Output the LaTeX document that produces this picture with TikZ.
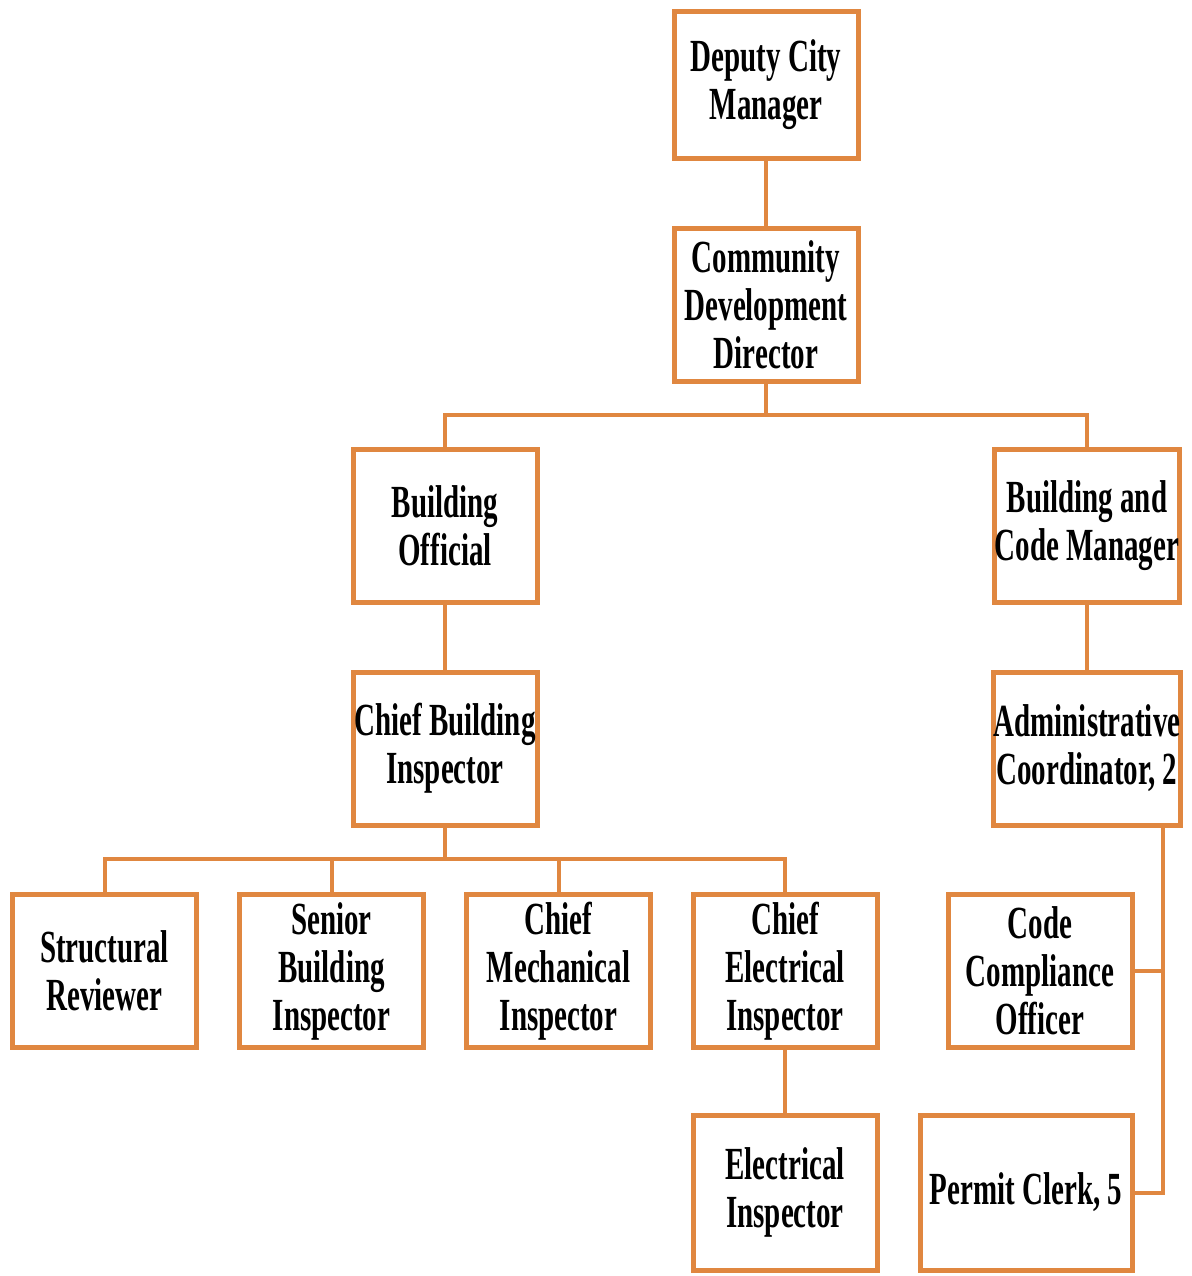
\documentclass[tikz,border=0pt]{standalone}
\usepackage{fontspec}
\setmainfont[FakeStretch=0.63]{Liberation Serif}
\definecolor{org}{RGB}{224,135,64}
\tikzset{
  orgbox/.style={draw=org, line width=5pt, fill=white, minimum width=184pt, minimum height=153pt,
    align=center, inner sep=0pt, text=black,
    font=\bfseries\fontsize{46}{48}\selectfont},
  link/.style={draw=org, line width=4pt}
}
\begin{document}
\begin{tikzpicture}[x=1pt,y=-1pt]
\useasboundingbox (0,0) rectangle (1191,1276);
\node[orgbox, minimum height=147pt] (dcm) at (766,85) {Deputy City\\Manager};
\node[orgbox] (cdd) at (766,304.5) {Community\\Development\\Director};
\node[orgbox] (bo) at (445,525.5) {Building\\Official};
\node[orgbox] (bcm) at (1087,525.5) {Building and\\Code Manager};
\node[orgbox] (cbi) at (445,748.5) {Chief Building\\Inspector};
\node[orgbox] (adm) at (1087,748.5) {Administrative\\Coordinator, 2};
\node[orgbox] (sr) at (104.5,971) {Structural\\Reviewer};
\node[orgbox] (sbi) at (331.5,971) {Senior\\Building\\Inspector};
\node[orgbox] (cmi) at (558.5,971) {Chief\\Mechanical\\Inspector};
\node[orgbox] (cei) at (785,971) {Chief\\Electrical\\Inspector};
\node[orgbox] (cco) at (1040,971) {Code\\Compliance\\Officer};
\node[orgbox, minimum height=155pt] (ei) at (785,1192.5) {Electrical\\Inspector};
\node[orgbox, minimum width=212pt, minimum height=155pt] (pc) at (1026,1192.5) {Permit Clerk, 5};
\coordinate (bus1) at (0,415);
\coordinate (bus2) at (0,859);
\coordinate (rail) at (1163,0);
\draw[link] (dcm) -- (cdd);
\draw[link] (cdd.south) -- (cdd.south |- bus1);
\draw[link] (bo.north) |- (bus1 -| cdd.south) -| (bcm.north);
\draw[link] (bo) -- (cbi);
\draw[link] (bcm) -- (adm);
\draw[link] (cbi.south) -- (cbi.south |- bus2);
\draw[link] (sr.north) |- (bus2 -| cbi.south) -| (cei.north);
\draw[link] (sbi.north) -- (sbi.north |- bus2);
\draw[link] (cmi.north) -- (cmi.north |- bus2);
\draw[link] (cei) -- (ei);
\draw[link] (adm.south -| rail) |- (pc.east);
\draw[link] (cco.east) -- (cco.east -| rail);
\end{tikzpicture}
\end{document}
